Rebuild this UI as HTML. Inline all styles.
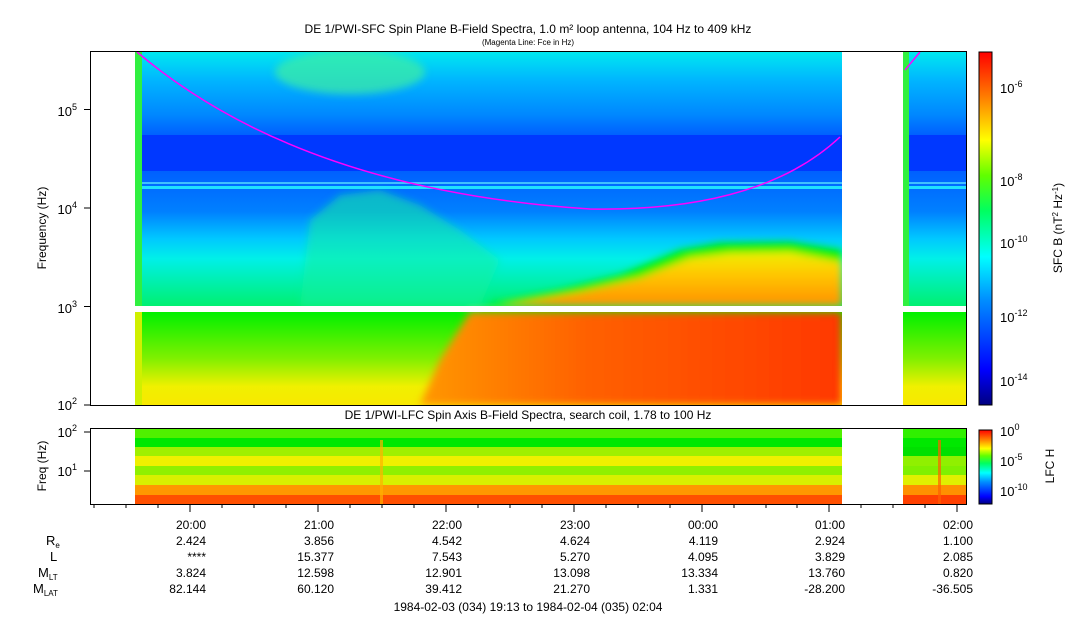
<!DOCTYPE html>
<html><head><meta charset="utf-8"><style>
html,body{margin:0;padding:0;background:#fff;}
svg{display:block;font-family:"Liberation Sans",sans-serif;}
</style></head><body>
<svg width="1083" height="620" viewBox="0 0 1083 620" xmlns="http://www.w3.org/2000/svg">
<defs>
<linearGradient id="gTop" x1="0" y1="0" x2="0" y2="1">
 <stop offset="0" stop-color="#00e8f0"/><stop offset="0.35" stop-color="#00b4ff"/><stop offset="0.75" stop-color="#0088ff"/><stop offset="1" stop-color="#0060ff"/>
</linearGradient>
<linearGradient id="gMid" x1="0" y1="0" x2="0" y2="1">
 <stop offset="0" stop-color="#0060ff"/><stop offset="0.3" stop-color="#0080ff"/><stop offset="0.5" stop-color="#00c8ff"/><stop offset="0.65" stop-color="#00f0e8"/><stop offset="1" stop-color="#00f070"/>
</linearGradient>
<linearGradient id="gLow" x1="0" y1="0" x2="0" y2="1">
 <stop offset="0" stop-color="#00f000"/><stop offset="0.5" stop-color="#80f000"/><stop offset="0.8" stop-color="#f0f000"/><stop offset="1" stop-color="#f8e800"/>
</linearGradient>
<linearGradient id="gOr" x1="0" y1="0" x2="0" y2="1">
 <stop offset="0" stop-color="#f0f000"/><stop offset="0.4" stop-color="#ffc800"/><stop offset="1" stop-color="#ff9000"/>
</linearGradient>
<linearGradient id="gRed" x1="0" y1="0" x2="1" y2="0">
 <stop offset="0" stop-color="#ff9800"/><stop offset="0.4" stop-color="#ff6000"/><stop offset="1" stop-color="#ff3800"/>
</linearGradient>
<linearGradient id="cb1" x1="0" y1="1" x2="0" y2="0">
 <stop offset="0" stop-color="#000080"/><stop offset="0.1" stop-color="#0000ff"/><stop offset="0.3" stop-color="#0090ff"/><stop offset="0.42" stop-color="#00ffff"/><stop offset="0.55" stop-color="#00ff60"/><stop offset="0.65" stop-color="#60ff00"/><stop offset="0.75" stop-color="#ffff00"/><stop offset="0.87" stop-color="#ff8000"/><stop offset="1" stop-color="#ff0000"/>
</linearGradient>
<filter id="bl"><feGaussianBlur stdDeviation="4"/></filter>
<clipPath id="cp"><rect x="135" y="52" width="707" height="353"/></clipPath>
</defs>

<text x="528" y="33" font-size="12" text-anchor="middle">DE 1/PWI-SFC  Spin Plane B-Field Spectra, 1.0 m² loop antenna, 104 Hz to 409 kHz</text>
<text x="528" y="45" font-size="8" text-anchor="middle">(Magenta Line: Fce in Hz)</text>

<g clip-path="url(#cp)">
 <rect x="135" y="52" width="707" height="83" fill="url(#gTop)"/>
 <rect x="135" y="135" width="707" height="36" fill="#0038ff"/>
 <rect x="135" y="171" width="707" height="135" fill="url(#gMid)"/>
 <rect x="135" y="312" width="707" height="93" fill="url(#gLow)"/>
 <g filter="url(#bl)">
  <ellipse cx="350" cy="72" rx="75" ry="22" fill="#40f0a0" opacity="0.7"/>
  <polygon points="300,306 310,220 340,195 380,190 420,205 460,230 500,260 480,306" fill="#10f0a0" opacity="0.55"/>
  <polygon points="480,306 560,290 620,275 680,250 720,243 790,242 842,250 842,306" fill="#00f000"/>
  <polygon points="500,306 580,292 640,278 690,258 730,253 790,252 842,262 842,306" fill="url(#gOr)"/>
  <polygon points="470,312 842,312 842,405 420,405 440,360" fill="url(#gRed)"/>
 </g>
 <rect x="135" y="182" width="707" height="2" fill="#40c0ff"/>
 <rect x="135" y="186" width="707" height="3" fill="#20e0ff"/>
 <rect x="135" y="306" width="707" height="6" fill="#fff"/>
 <rect x="135" y="52" width="7" height="254" fill="#30f040"/>
 <rect x="135" y="312" width="7" height="93" fill="#d0f000"/>
</g>
<rect x="903" y="52" width="63" height="83" fill="url(#gTop)"/>
<rect x="903" y="135" width="63" height="36" fill="#0038ff"/>
<rect x="903" y="171" width="63" height="135" fill="url(#gMid)"/>
<rect x="903" y="182" width="63" height="2" fill="#40c0ff"/>
<rect x="903" y="186" width="63" height="3" fill="#20e0ff"/>
<rect x="903" y="312" width="63" height="93" fill="url(#gLow)"/>
<rect x="903" y="52" width="6" height="254" fill="#30f040"/>
<path d="M137,52 Q300,190 590,209 Q760,212 840,137" fill="none" stroke="#ff00ff" stroke-width="1.5"/>
<path d="M905,70 L920,52" fill="none" stroke="#ff00ff" stroke-width="1.5"/>

<rect x="90.5" y="51.5" width="876" height="354" fill="none" stroke="#000"/>
<g stroke="#000">
 <line x1="84" y1="405" x2="90" y2="405"/><line x1="84" y1="306.5" x2="90" y2="306.5"/><line x1="84" y1="208" x2="90" y2="208"/><line x1="84" y1="109.5" x2="90" y2="109.5"/>
</g>
<g font-size="13" text-anchor="end">
 <text x="77" y="410">10<tspan dy="-6" font-size="9">2</tspan></text>
 <text x="77" y="313">10<tspan dy="-6" font-size="9">3</tspan></text>
 <text x="77" y="214">10<tspan dy="-6" font-size="9">4</tspan></text>
 <text x="77" y="116">10<tspan dy="-6" font-size="9">5</tspan></text>
</g>
<text transform="translate(46,228) rotate(-90)" font-size="12" text-anchor="middle">Frequency (Hz)</text>

<rect x="979" y="52" width="13" height="353" fill="url(#cb1)" stroke="#000"/>
<g font-size="13">
 <text x="1000" y="93">10<tspan dy="-6" font-size="9">-6</tspan></text>
 <text x="1000" y="186">10<tspan dy="-6" font-size="9">-8</tspan></text>
 <text x="1000" y="248">10<tspan dy="-6" font-size="9">-10</tspan></text>
 <text x="1000" y="322">10<tspan dy="-6" font-size="9">-12</tspan></text>
 <text x="1000" y="386">10<tspan dy="-6" font-size="9">-14</tspan></text>
</g>
<text transform="translate(1062,228) rotate(-90)" font-size="12" text-anchor="middle">SFC B (nT<tspan dy="-4" font-size="8">2</tspan><tspan dy="4"> Hz</tspan><tspan dy="-4" font-size="8">-1</tspan><tspan dy="4">)</tspan></text>

<text x="528" y="419" font-size="12" text-anchor="middle">DE 1/PWI-LFC  Spin Axis B-Field Spectra, search coil, 1.78 to 100 Hz</text>
<g>
 <rect x="135" y="428" width="707" height="10" fill="#50f000"/>
 <rect x="135" y="438" width="707" height="9" fill="#00e800"/>
 <rect x="135" y="447" width="707" height="9" fill="#a0f000"/>
 <rect x="135" y="456" width="707" height="10" fill="#f0f000"/>
 <rect x="135" y="466" width="707" height="9" fill="#90f000"/>
 <rect x="135" y="475" width="707" height="10" fill="#d8f000"/>
 <rect x="135" y="485" width="707" height="10" fill="#ff9800"/>
 <rect x="135" y="495" width="707" height="9" fill="#ff5000"/>
 <rect x="903" y="428" width="63" height="10" fill="#30f000"/>
 <rect x="903" y="438" width="63" height="9" fill="#00e800"/>
 <rect x="903" y="447" width="63" height="9" fill="#00e000"/>
 <rect x="903" y="456" width="63" height="10" fill="#90f000"/>
 <rect x="903" y="466" width="63" height="9" fill="#80f000"/>
 <rect x="903" y="475" width="63" height="10" fill="#e0f000"/>
 <rect x="903" y="485" width="63" height="10" fill="#ff9000"/>
 <rect x="903" y="495" width="63" height="9" fill="#ff4000"/>
 <rect x="380" y="440" width="3" height="64" fill="#ffb000" opacity="0.7"/>
 <rect x="938" y="440" width="3" height="64" fill="#ff6000" opacity="0.7"/>
</g>
<rect x="90.5" y="428.5" width="876" height="76" fill="none" stroke="#000"/>
<g stroke="#000"><line x1="84" y1="432" x2="90" y2="432"/><line x1="84" y1="471" x2="90" y2="471"/></g>
<g font-size="13" text-anchor="end">
 <text x="77" y="437">10<tspan dy="-6" font-size="9">2</tspan></text>
 <text x="77" y="476">10<tspan dy="-6" font-size="9">1</tspan></text>
</g>
<text transform="translate(46,466) rotate(-90)" font-size="12" text-anchor="middle">Freq (Hz)</text>
<rect x="979" y="430" width="13" height="74" fill="url(#cb1)" stroke="#000"/>
<g font-size="13">
 <text x="1000" y="436">10<tspan dy="-6" font-size="9">0</tspan></text>
 <text x="1000" y="466">10<tspan dy="-6" font-size="9">-5</tspan></text>
 <text x="1000" y="496">10<tspan dy="-6" font-size="9">-10</tspan></text>
</g>
<text transform="translate(1054,466) rotate(-90)" font-size="12" text-anchor="middle">LFC H</text>

<g stroke="#000">
 <line x1="190" y1="504" x2="190" y2="512"/><line x1="318" y1="504" x2="318" y2="512"/><line x1="446" y1="504" x2="446" y2="512"/><line x1="574" y1="504" x2="574" y2="512"/><line x1="702" y1="504" x2="702" y2="512"/><line x1="829" y1="504" x2="829" y2="512"/><line x1="957" y1="504" x2="957" y2="512"/>
 <line x1="94" y1="504" x2="94" y2="508"/><line x1="126" y1="504" x2="126" y2="508"/><line x1="158" y1="504" x2="158" y2="508"/>
 <line x1="222" y1="504" x2="222" y2="508"/><line x1="254" y1="504" x2="254" y2="508"/><line x1="286" y1="504" x2="286" y2="508"/>
 <line x1="350" y1="504" x2="350" y2="508"/><line x1="382" y1="504" x2="382" y2="508"/><line x1="414" y1="504" x2="414" y2="508"/>
 <line x1="478" y1="504" x2="478" y2="508"/><line x1="510" y1="504" x2="510" y2="508"/><line x1="542" y1="504" x2="542" y2="508"/>
 <line x1="606" y1="504" x2="606" y2="508"/><line x1="638" y1="504" x2="638" y2="508"/><line x1="670" y1="504" x2="670" y2="508"/>
 <line x1="734" y1="504" x2="734" y2="508"/><line x1="766" y1="504" x2="766" y2="508"/><line x1="797" y1="504" x2="797" y2="508"/>
 <line x1="861" y1="504" x2="861" y2="508"/><line x1="893" y1="504" x2="893" y2="508"/><line x1="925" y1="504" x2="925" y2="508"/>
</g>
<g font-size="12" text-anchor="end">
 <text x="206" y="529">20:00</text><text x="334" y="529">21:00</text><text x="462" y="529">22:00</text><text x="590" y="529">23:00</text><text x="718" y="529">00:00</text><text x="845" y="529">01:00</text><text x="973" y="529">02:00</text>
 <text x="206" y="545">2.424</text><text x="334" y="545">3.856</text><text x="462" y="545">4.542</text><text x="590" y="545">4.624</text><text x="718" y="545">4.119</text><text x="845" y="545">2.924</text><text x="973" y="545">1.100</text>
 <text x="206" y="561">****</text><text x="334" y="561">15.377</text><text x="462" y="561">7.543</text><text x="590" y="561">5.270</text><text x="718" y="561">4.095</text><text x="845" y="561">3.829</text><text x="973" y="561">2.085</text>
 <text x="206" y="577">3.824</text><text x="334" y="577">12.598</text><text x="462" y="577">12.901</text><text x="590" y="577">13.098</text><text x="718" y="577">13.334</text><text x="845" y="577">13.760</text><text x="973" y="577">0.820</text>
 <text x="206" y="593">82.144</text><text x="334" y="593">60.120</text><text x="462" y="593">39.412</text><text x="590" y="593">21.270</text><text x="718" y="593">1.331</text><text x="845" y="593">-28.200</text><text x="973" y="593">-36.505</text>
</g>
<g font-size="13">
 <text x="46" y="545">R<tspan dy="3" font-size="8">e</tspan></text>
 <text x="50" y="561">L</text>
 <text x="38" y="577">M<tspan dy="3" font-size="8">LT</tspan></text>
 <text x="33" y="593">M<tspan dy="3" font-size="8">LAT</tspan></text>
</g>
<text x="528" y="611" font-size="12" text-anchor="middle">1984-02-03 (034) 19:13 to 1984-02-04 (035) 02:04</text>
</svg>
</body></html>
